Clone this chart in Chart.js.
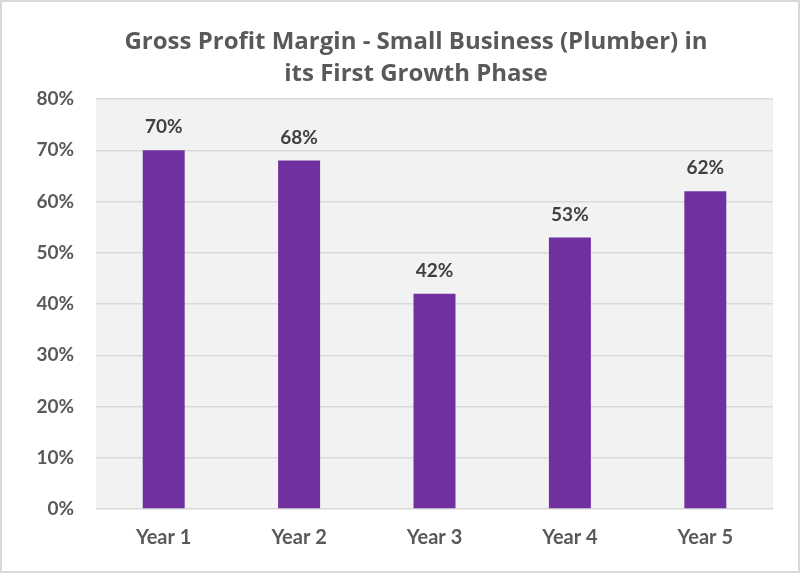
<!DOCTYPE html>
<html>
<head>
<meta charset="utf-8">
<script src="https://cdn.jsdelivr.net/npm/chart.js@4"></script>
<style>
  html, body { margin: 0; padding: 0; background: #fff; }
  #wrap { width: 800px; height: 573px; }
</style>
</head>
<body>
<div id="wrap"><canvas id="margin"></canvas></div>
<script>
"use strict";

// data
const years = ['Year 1', 'Year 2', 'Year 3', 'Year 4', 'Year 5'];
const margins = [70, 68, 42, 53, 62];
const titleLines = ['Gross Profit Margin - Small Business (Plumber) in', 'its First Growth Phase'];
const yMax = 80;
const yStep = 10;

const FONT = 'Lato, "Open Sans", sans-serif';
const TITLE_FONT = '"Open Sans", Lato, sans-serif';

// background, plot area fill, outer frame and the title
const backdrop = {
  id: 'backdrop',
  beforeDraw(chart) {
    const { ctx, chartArea: a, width, height } = chart;
    ctx.save();
    ctx.fillStyle = '#ffffff';
    ctx.fillRect(0, 0, width, height);
    ctx.fillStyle = '#f2f2f2';
    ctx.fillRect(a.left, a.top, a.right - a.left, a.bottom - a.top);
    ctx.strokeStyle = '#d9d9d9';
    ctx.lineWidth = 2;
    ctx.strokeRect(1, 1, width - 2, height - 2);

    ctx.font = 'bold 24px ' + TITLE_FONT;
    ctx.fillStyle = '#595959';
    ctx.textAlign = 'center';
    ctx.textBaseline = 'alphabetic';
    titleLines.forEach((line, i) => {
      ctx.fillText(line, 416, 49 + i * 32);
    });
    ctx.restore();
  }
};

// value labels above the bars
const valueLabels = {
  id: 'valueLabels',
  afterDatasetsDraw(chart) {
    const { ctx } = chart;
    const meta = chart.getDatasetMeta(0);
    ctx.save();
    ctx.font = 'bold 19px ' + FONT;
    ctx.fillStyle = '#404040';
    ctx.textAlign = 'center';
    ctx.textBaseline = 'middle';
    meta.data.forEach((bar, i) => {
      ctx.fillText(margins[i] + '%', bar.x, bar.y - 23);
    });
    ctx.restore();
  }
};

const config = {
  type: 'bar',
  data: {
    labels: years,
    datasets: [{
      data: margins,
      backgroundColor: '#7030a0',
      borderWidth: 0,
      barPercentage: 1,
      categoryPercentage: 0.31
    }]
  },
  options: {
    responsive: true,
    maintainAspectRatio: false,
    animation: false,
    layout: {
      padding: { left: 0, right: 27, top: 99, bottom: 0 }
    },
    plugins: {
      legend: { display: false },
      tooltip: { enabled: false },
      title: { display: false }
    },
    scales: {
      x: {
        grid: { display: false },
        border: { display: false },
        ticks: {
          color: '#595959',
          font: { family: FONT, size: 20, weight: 'bold' },
          padding: 9
        },
        afterFit(scale) { scale.height = 64; }
      },
      y: {
        min: 0,
        max: yMax,
        grid: { color: '#d9d9d9', lineWidth: 1.5, drawTicks: false },
        border: { display: false },
        ticks: {
          stepSize: yStep,
          color: '#595959',
          font: { family: FONT, size: 19, weight: 'bold' },
          padding: 22,
          callback: (v) => v + '%'
        },
        afterFit(scale) { scale.width = 96; }
      }
    }
  },
  plugins: [backdrop, valueLabels]
};

const marginChart = new Chart(document.getElementById('margin'), config);
</script>
</body>
</html>
